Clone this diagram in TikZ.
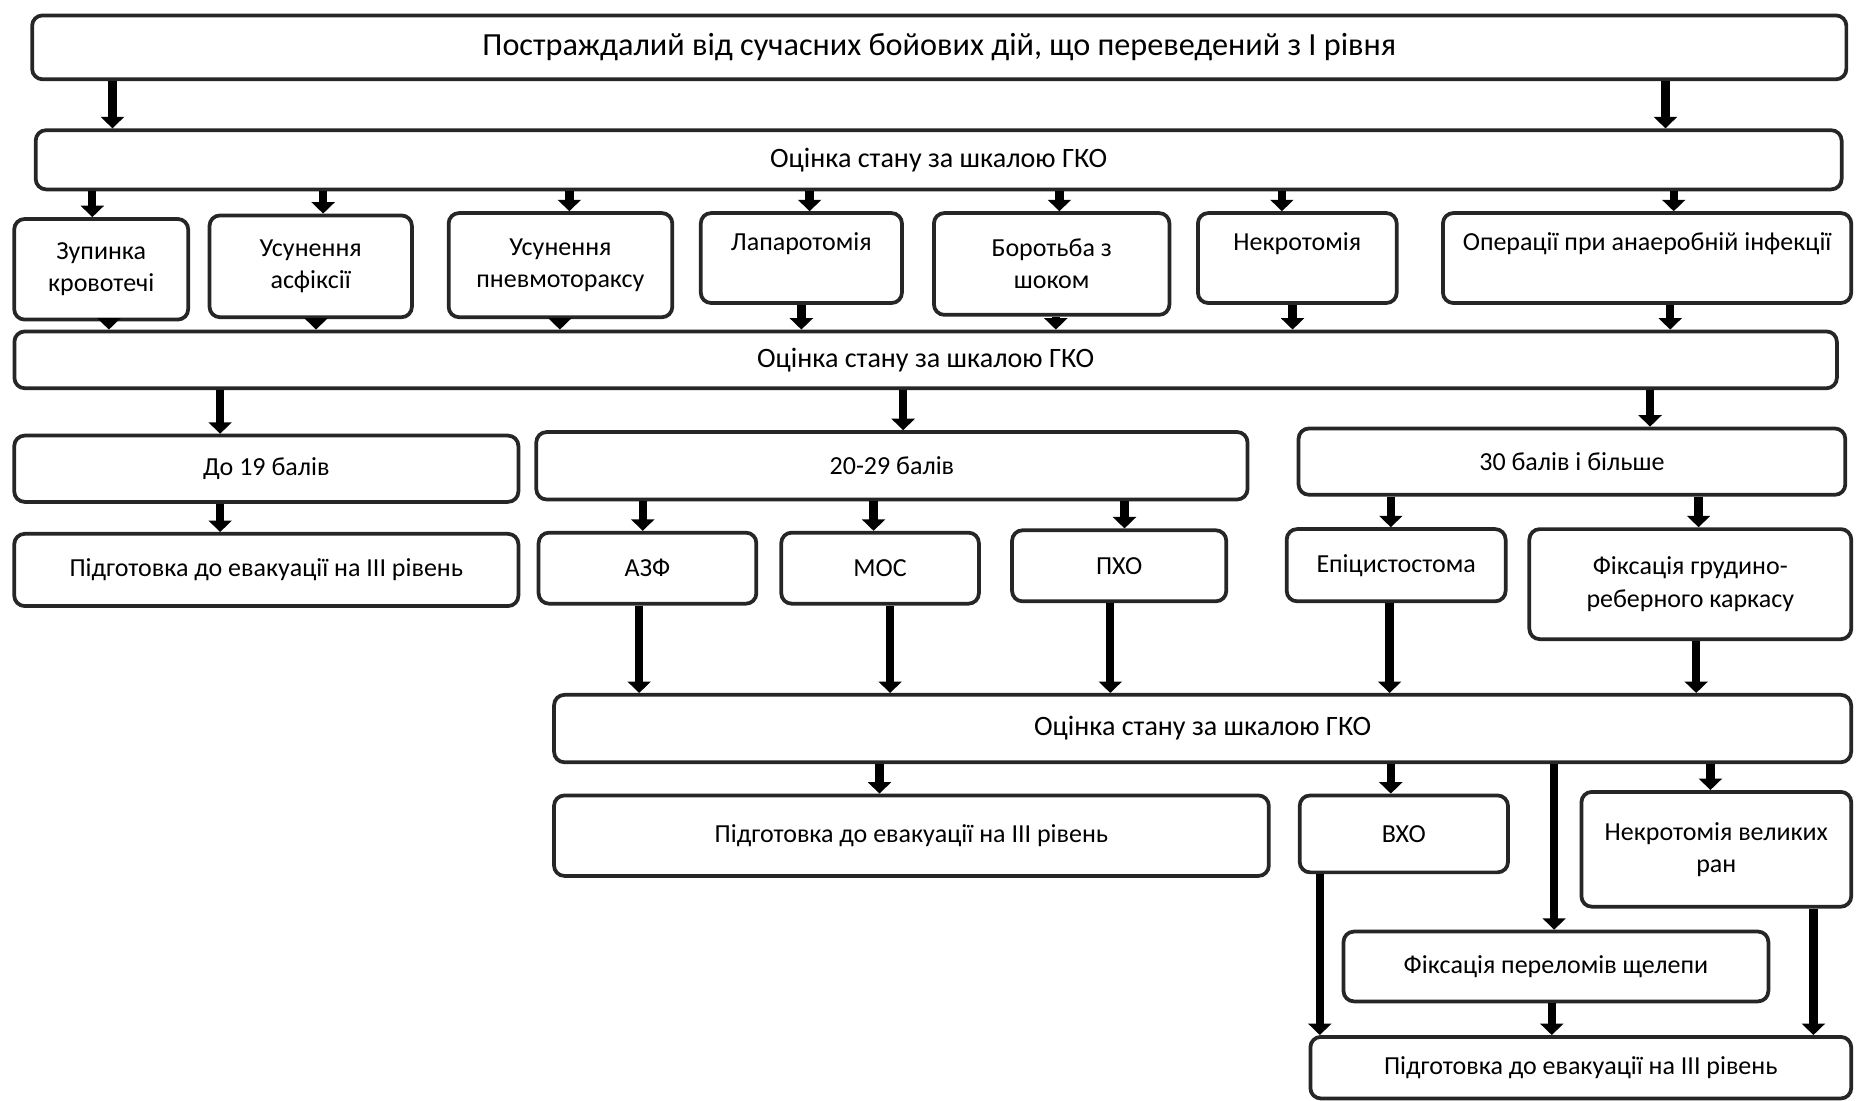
\documentclass[tikz,border=0pt]{standalone}
\usepackage{fontspec}
\setmainfont{Carlito}
\usetikzlibrary{arrows.meta,positioning}
\tikzset{
    blok/.style={
           rectangle,
           rounded corners=5pt,
           draw=black!85, line width=1.8pt,
           align=center,
           inner sep=3pt,
           font=\fontsize{12.5}{15.5}\selectfont,
           },
    gko/.style={
           blok,
           font=\fontsize{13.5}{15.5}\selectfont,
           },
    pil/.style={
           ->,
           line width=4pt,
           },
}

\begin{document}
\begin{tikzpicture}[x=0.02cm,y=-0.02cm,>={Triangle[length=5.5pt,width=11pt]}]
\useasboundingbox (0,0) rectangle (1568,930);
% rows of boxes
\node[blok,minimum width=306.6mm,minimum height=10.8mm,font=\fontsize{15.5}{18}\selectfont] (top) at (793.5,40) {Постраждалий від сучасних бойових дій, що переведений з I рівня};
\node[gko,minimum width=305.2mm,minimum height=10mm] (gko1) at (793,135) {Оцінка стану за шкалою ГКО};

\node[blok,minimum width=29.4mm,minimum height=17mm] (zup) at (85.5,227.5) {Зупинка\\кровотечі};
\node[blok,minimum width=34.2mm,minimum height=17.2mm] (asf) at (262.5,225) {Усунення\\асфіксії};
\node[blok,minimum width=37.8mm,minimum height=17.6mm] (pnev) at (473.5,224) {Усунення\\пневмотораксу};
\node[blok,minimum width=34mm,minimum height=15.2mm] (lap) at (677,218) {Лапаротомія\\~};
\node[blok,minimum width=39.8mm,minimum height=17.2mm] (shok) at (888.5,223) {Боротьба з\\шоком};
\node[blok,minimum width=33.6mm,minimum height=15.2mm] (nekr) at (1096,218) {Некротомія\\~};
\node[blok,minimum width=69mm,minimum height=15.2mm] (anaer) at (1391.5,218) {Операції при анаеробній інфекції\\~};

\node[gko,minimum width=308mm,minimum height=9.6mm] (gko2) at (782,304) {Оцінка стану за шкалою ГКО};

\node[blok,minimum width=85.2mm,minimum height=11.2mm] (do19) at (225,396) {До 19 балів};
\node[blok,minimum width=120.2mm,minimum height=11.4mm] (b2029) at (753.5,393.5) {20-29 балів};
\node[blok,minimum width=92.4mm,minimum height=11.2mm] (b30) at (1328,390) {30 балів і більше};

\node[blok,minimum width=85.2mm,minimum height=12.2mm] (evak1) at (225,481.5) {Підготовка до евакуації на III рівень};
\node[blok,minimum width=36.8mm,minimum height=12mm] (azf) at (547,480) {АЗФ};
\node[blok,minimum width=33.4mm,minimum height=12mm] (mos) at (743.5,480) {МОС};
\node[blok,minimum width=36.2mm,minimum height=12mm] (pho) at (945.5,478) {ПХО};
\node[blok,minimum width=37mm,minimum height=12.2mm] (epi) at (1179.5,477.5) {Епіцистостома};
\node[blok,minimum width=54.4mm,minimum height=18.6mm] (grud) at (1428,493.5) {Фіксація грудино-\\реберного каркасу};

\node[gko,minimum width=219.2mm,minimum height=11.4mm] (gko3) at (1016,615.5) {Оцінка стану за шкалою ГКО};

\node[blok,minimum width=120.8mm,minimum height=13.6mm] (evak2) at (770,706) {Підготовка до евакуації на III рівень};
\node[blok,minimum width=35.2mm,minimum height=13mm] (vho) at (1186,704.5) {ВХО};
\node[blok,minimum width=45.6mm,minimum height=19.4mm] (nekrv) at (1450,717.5) {Некротомія великих\\ран};
\node[blok,minimum width=71.8mm,minimum height=11.8mm] (shch) at (1314.5,816.5) {Фіксація переломів щелепи};
\node[blok,minimum width=91.4mm,minimum height=10.4mm] (evak3) at (1335.5,902) {Підготовка до евакуації на III рівень};

% arrows
\path (top.south -| 95,0) edge[pil] (gko1.north -| 95,0);
\path (top.south -| 1407,0) edge[pil] (gko1.north -| 1407,0);

\path (gko1.south -| 78,0) edge[pil] (zup.north -| 78,0);
\path (gko1.south -| 273,0) edge[pil] (asf.north -| 273,0);
\path (gko1.south -| 481,0) edge[pil] (pnev.north -| 481,0);
\path (gko1.south -| 684,0) edge[pil] (lap.north -| 684,0);
\path (gko1.south -| 895,0) edge[pil] (shok.north -| 895,0);
\path (gko1.south -| 1083,0) edge[pil] (nekr.north -| 1083,0);
\path (gko1.south -| 1414,0) edge[pil] (anaer.north -| 1414,0);

\path (zup.south -| 92,0) edge[pil] (gko2.north -| 92,0);
\path (asf.south -| 267,0) edge[pil] (gko2.north -| 267,0);
\path (pnev.south -| 473,0) edge[pil] (gko2.north -| 473,0);
\path (lap.south -| 677,0) edge[pil] (gko2.north -| 677,0);
\path (shok.south -| 892,0) edge[pil] (gko2.north -| 892,0);
\path (nekr.south -| 1092,0) edge[pil] (gko2.north -| 1092,0);
\path (anaer.south -| 1411,0) edge[pil] (gko2.north -| 1411,0);

\path (gko2.south -| 186,0) edge[pil] (do19.north -| 186,0);
\path (gko2.south -| 763,0) edge[pil] (b2029.north -| 763,0);
\path (gko2.south -| 1394,0) edge[pil] (b30.north -| 1394,0);

\path (do19.south -| 186,0) edge[pil] (evak1.north -| 186,0);
\path (b2029.south -| 543,0) edge[pil] (azf.north -| 543,0);
\path (b2029.south -| 738,0) edge[pil] (mos.north -| 738,0);
\path (b2029.south -| 950,0) edge[pil] (pho.north -| 950,0);
\path (b30.south -| 1175,0) edge[pil] (epi.north -| 1175,0);
\path (b30.south -| 1435,0) edge[pil] (grud.north -| 1435,0);

\path (azf.south -| 540,0) edge[pil] (gko3.north -| 540,0);
\path (mos.south -| 752,0) edge[pil] (gko3.north -| 752,0);
\path (pho.south -| 938,0) edge[pil] (gko3.north -| 938,0);
\path (epi.south -| 1174,0) edge[pil] (gko3.north -| 1174,0);
\path (grud.south -| 1433,0) edge[pil] (gko3.north -| 1433,0);

\path (gko3.south -| 743,0) edge[pil] (evak2.north -| 743,0);
\path (gko3.south -| 1175,0) edge[pil] (vho.north -| 1175,0);
\path (gko3.south -| 1313,0) edge[pil] (shch.north -| 1313,0);
\path (gko3.south -| 1445,0) edge[pil] (nekrv.north -| 1445,0);

\path (vho.south -| 1115,0) edge[pil] (evak3.north -| 1115,0);
\path (shch.south -| 1311,0) edge[pil] (evak3.north -| 1311,0);
\path (nekrv.south -| 1532,0) edge[pil] (evak3.north -| 1532,0);
\end{tikzpicture}
\end{document}
